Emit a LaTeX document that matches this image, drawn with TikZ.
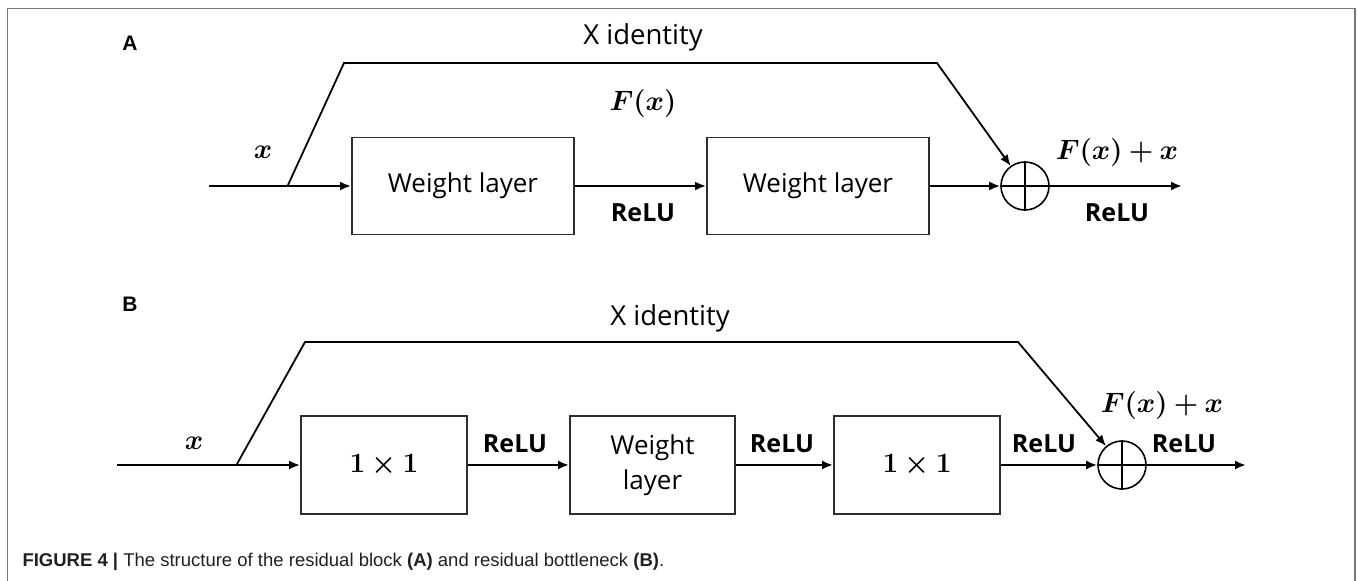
\RequirePackage{fix-cm}
\documentclass[tikz,border=0pt]{standalone}
\usepackage{amsmath,bm}
\usepackage{fontspec}
\newfontfamily\labelfont{Open Sans}
\newfontfamily\capfont{Liberation Sans}
\usepackage{tikz}
\usetikzlibrary{arrows.meta, positioning, calc}
\definecolor{rbframe}{RGB}{120,120,120}
\definecolor{rbbox}{RGB}{45,45,45}
\definecolor{rbcap}{RGB}{35,31,32}

\begin{document}
\begin{tikzpicture}[x=1pt, y=-1pt,
  layer/.style={draw=rbbox, line width=1.8pt, minimum width=222pt, minimum height=97pt,
    inner sep=0pt, align=center, font=\labelfont\fontsize{26}{35}\selectfont},
  convbox/.style={layer, minimum width=166pt, minimum height=98pt, font=\fontsize{28}{32}\selectfont},
  sumnode/.style={circle, draw, line width=1.6pt, minimum size=48pt, inner sep=0pt},
  flow/.style={line width=2.6pt, -{Latex[length=11pt,width=9pt]}},
  skip/.style={line width=1.8pt, -{Latex[length=11pt,width=9pt]}},
  relu/.style={font=\labelfont\bfseries\fontsize{25}{30}\selectfont},
  idlabel/.style={font=\labelfont\fontsize{27.5}{32}\selectfont},
  mathlabel/.style={font=\fontsize{28}{32}\selectfont},
  panel/.style={font=\capfont\bfseries\fontsize{21}{25}\selectfont}]
\useasboundingbox (0,0) rectangle (1358,581);
% outer frame, open at the bottom
\draw[rbframe, line width=1.5pt] (7.5,581) -- (7.5,8.5) -- (1355,8.5) -- (1355,581);

% ---- panel A: residual block ----
\node[panel] (labA) at (130,43) {A};
\coordinate (inA) at (209,186);
\coordinate (splitA) at (288,185);
\coordinate (cornerA1) at (344,63);
\coordinate (cornerA2) at (937,63);
\coordinate (outA) at (1182,186);
\node[layer] (wA1) at (463,186) {Weight layer};
\node[layer] (wA2) at (818,186) {Weight layer};
\node[sumnode] (sumA) at (1025,186) {};
\draw[line width=1.6pt] (sumA.north) -- (sumA.south);
\draw[flow] (inA) -- (wA1);
\draw[flow] (wA1) -- (wA2);
\draw[flow] (wA2) -- (sumA.west);
\draw[flow] (sumA.west) -- (outA);
\draw[skip] (splitA) -- (cornerA1) -- (cornerA2) -- (sumA);
\node[idlabel] (idA) at (643,37) {X identity};
\node[mathlabel] (fxA) at (643,103) {$\bm{F(x)}$};
\node[mathlabel] (xA) at (263,152) {$\bm{x}$};
\node[relu] (reluA1) at (643,213) {ReLU};
\node[mathlabel] (fxxA) at (1117,152) {$\bm{F(x)+x}$};
\node[relu] (reluA2) at (1117,213) {ReLU};

% ---- panel B: residual bottleneck ----
\node[panel] (labB) at (130,304) {B};
\coordinate (inB) at (117,465);
\coordinate (splitB) at (237,464);
\coordinate (cornerB1) at (305,342);
\coordinate (cornerB2) at (1018,342);
\coordinate (outB) at (1246,465);
\node[convbox] (cB1) at (384,465) {$\bm{1\times1}$};
\node[layer, minimum width=165pt, minimum height=98pt] (wB) at (652.5,465) {Weight\\layer};
\node[convbox] (cB3) at (917,465) {$\bm{1\times1}$};
\node[sumnode] (sumB) at (1122,465) {};
\draw[line width=1.6pt] (sumB.north) -- (sumB.south);
\draw[flow] (inB) -- (cB1);
\draw[flow] (cB1) -- (wB);
\draw[flow] (wB) -- (cB3);
\draw[flow] (cB3) -- (sumB.west);
\draw[flow] (sumB.west) -- (outB);
\draw[skip] (splitB) -- (cornerB1) -- (cornerB2) -- (sumB);
\node[idlabel] (idB) at (670,318) {X identity};
\node[mathlabel] (xB) at (194,443) {$\bm{x}$};
\foreach \x/\n in {515/1, 782/2, 1044/3, 1184/4}{
  \node[relu] (reluB\n) at (\x,444) {ReLU};
}
\node[mathlabel] (fxxB) at (1162,405) {$\bm{F(x)+x}$};

% ---- caption ----
\node[anchor=west, text=rbcap, font=\capfont\fontsize{18.5}{22}\selectfont] (capt) at (19,562)
  {\textbf{FIGURE 4 |} The structure of the residual block \textbf{(A)} and residual bottleneck \textbf{(B)}.};
\end{tikzpicture}
\end{document}
